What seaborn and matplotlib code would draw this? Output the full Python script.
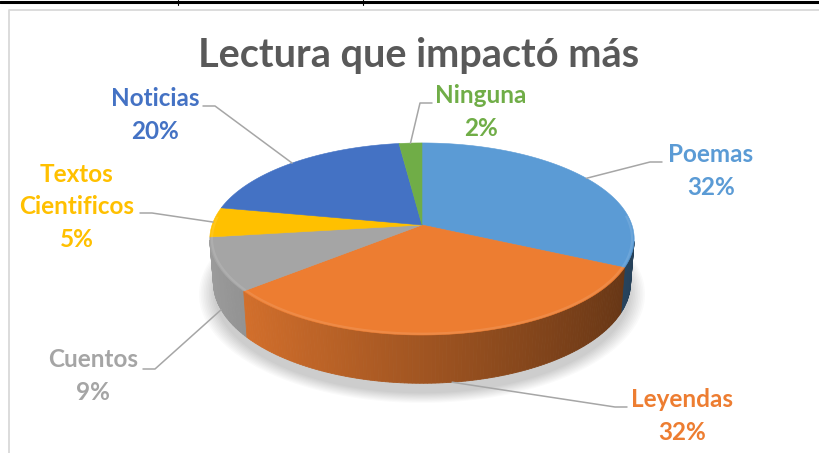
import numpy as np
import matplotlib
matplotlib.use("Agg")
import matplotlib.pyplot as plt
from matplotlib.colors import to_rgb
import seaborn as sns

# datos del gráfico
categorias = ["Poemas", "Leyendas", "Cuentos", "Textos\nCientificos", "Noticias", "Ninguna"]
porcentajes = [32, 32, 9, 5, 20, 2]
colores = ["#5B9BD5", "#ED7D31", "#A5A5A5", "#FFC000", "#4472C4", "#70AD47"]
titulo = "Lectura que impactó más"

# posiciones de las etiquetas (px) y del inicio de cada conector
pos_etiquetas = [(711, 171), (682, 416), (93, 376), (77, 207), (155, 115), (481, 112)]
inicio_conector = [(662, 162), (627, 407), (143, 369), (140, 213), (203, 106), (432, 103)]

sns.set_theme(style="white")
plt.rcParams["font.family"] = ["Lato", "DejaVu Sans"]

fig = plt.figure(figsize=(8.2, 4.53), dpi=100)
ax = fig.add_axes([0, 0, 1, 1])
ax.set_xlim(0, 820)
ax.set_ylim(453, 0)
ax.axis("off")

# geometría del pastel 3D (perspectiva simple)
CX, CY = 422, 225
K = 1289
D = 6.14
ELEV = np.deg2rad(26.6)
H = 0.234


def proyectar(theta, z, r=1.0):
    u = r * np.sin(theta)
    v = r * np.cos(theta)
    yc = v * np.sin(ELEV) + z * np.cos(ELEV)
    prof = D + v * np.cos(ELEV) - z * np.sin(ELEV)
    return CX + K * u / prof, CY - K * yc / prof


fracs = np.array(porcentajes) / np.sum(porcentajes)
bordes = np.concatenate([[0], np.cumsum(fracs)]) * 2 * np.pi

# sombra difusa
t = np.linspace(0, 2 * np.pi, 300)
for s in np.linspace(1.0, 1.07, 10):
    sx, sy = proyectar(t, -H - 0.03, r=s)
    ax.fill(sx, sy + 4, color="black", alpha=0.018, lw=0, zorder=1)

# caras laterales
quads = []
for i, c in enumerate(colores):
    th = np.linspace(bordes[i], bordes[i + 1], max(int(fracs[i] * 400), 4))
    for a, b in zip(th[:-1], th[1:]):
        m = 0.5 * (a + b)
        if np.cos(m) > -1 / (D * np.cos(ELEV)) + 0.02:
            continue
        x1, y1 = proyectar(np.array([a, b]), 0.0)
        x2, y2 = proyectar(np.array([b, a]), -H)
        f = 0.68 - 0.27 * np.sin(m)
        col = np.clip(np.array(to_rgb(c)) * f, 0, 1)
        quads.append((np.cos(m), np.r_[x1, x2], np.r_[y1, y2], col))

for _, qx, qy, col in sorted(quads, key=lambda q: -q[0]):
    ax.fill(qx, qy, color=col, lw=0.6, ec=col, zorder=2)

# caras superiores
for i, c in enumerate(colores):
    th = np.linspace(bordes[i], bordes[i + 1], max(int(fracs[i] * 400), 4))
    px, py = proyectar(th, 0.0)
    ax.fill(np.r_[CX, px], np.r_[CY, py], color=c, ec=c, lw=0.4, zorder=3)
    # bisel claro en el borde frontal
    frente = np.cos(th) < 0.1
    if frente.any():
        bx, by = proyectar(th[frente], 0.0, r=0.99)
        claro = 0.7 * np.array(to_rgb(c)) + 0.3
        ax.plot(bx, by, color=claro, lw=1.6, alpha=0.35, zorder=4,
                solid_capstyle="butt")

# etiquetas y conectores
for i, (cat, pct, c) in enumerate(zip(categorias, porcentajes, colores)):
    media = 0.5 * (bordes[i] + bordes[i + 1])
    z_fin = -H if np.cos(media) < 0 else 0.0
    ex, ey = proyectar(media, z_fin)
    sx, sy = inicio_conector[i]
    paso = 12 if ex > sx else -12
    ax.plot([sx, sx + paso, ex], [sy, sy, ey], color="#A6A6A6", lw=1.1, zorder=5)
    lx, ly = pos_etiquetas[i]
    ax.text(lx, ly, f"{cat}\n{pct}%", color=c, fontsize=17.5, fontweight="bold",
            ha="center", va="center", linespacing=1.5, zorder=6)

ax.text(419, 56, titulo, color="#595959", fontsize=28.5, fontweight="bold",
        ha="center", va="center", zorder=6)

# marco
ax.plot([0, 820], [1.5, 1.5], color="black", lw=2.2, zorder=7)
for xt in (178, 363):
    ax.plot([xt, xt], [0, 5], color="black", lw=0.8, zorder=7)
ax.plot([9.5, 9.5, 820], [453, 10, 10], color="#D9D9D9", lw=1.3, zorder=7)

fig.savefig("out.png", dpi=100)
